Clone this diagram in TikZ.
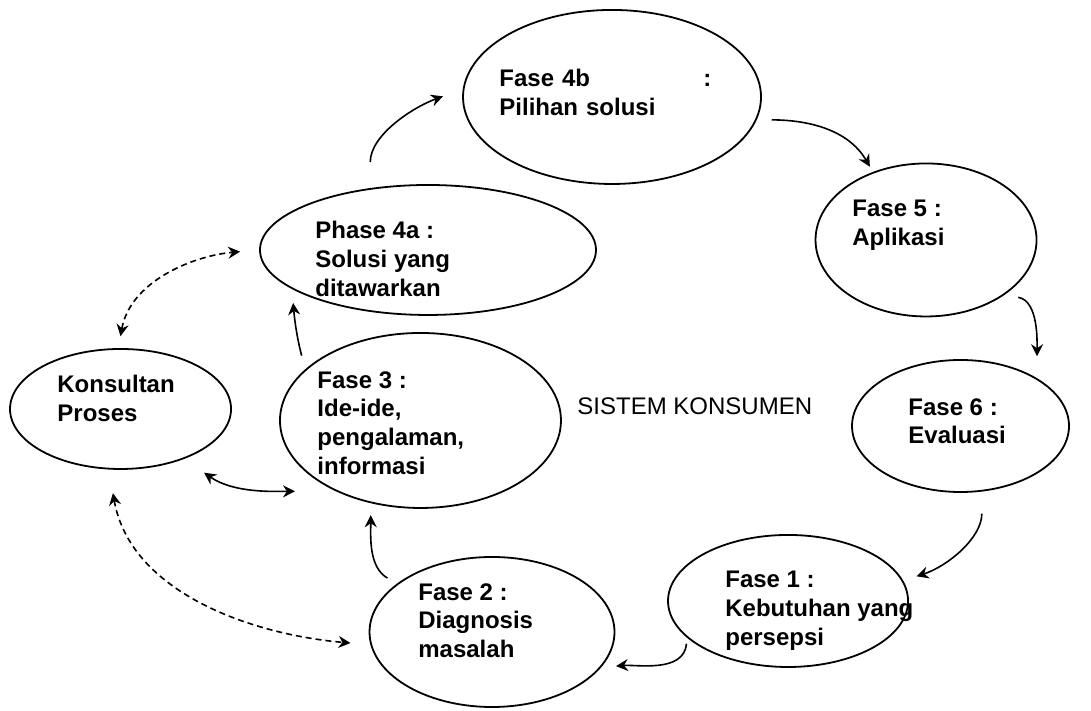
\documentclass[tikz,border=0pt]{standalone}
\usepackage{fontspec}
\setmainfont{Liberation Sans}
\usetikzlibrary{
    arrows.meta,
    shapes.geometric
}

\begin{document}
\begin{tikzpicture}[
    font=\fontsize{12}{14.4}\selectfont,
    >={Stealth[length=6pt,width=6pt,inset=2pt]},
    phase/.style={
        ellipse,
        draw=black,
        line width=0.9pt,
        inner sep=0pt
    },
    note/.style={
        anchor=north west,
        align=left,
        inner sep=0pt,
        font=\fontsize{12}{14.4}\selectfont\bfseries
    },
    flow/.style={
        ->,
        line width=0.8pt
    },
    link/.style={
        <->,
        line width=0.8pt
    },
    hint/.style={
        <->,
        line width=0.8pt,
        dash pattern=on 3pt off 2pt
    }
]
\useasboundingbox (0,0) rectangle (19.172,12.494);

% =========================================================
% Phase ellipses
% =========================================================
\node[phase, minimum width=5.237cm, minimum height=3.058cm] (k4b) at (10.755,10.790) {};
\node[phase, minimum width=5.905cm, minimum height=2.284cm] (k4a) at (7.521,8.101) {};
\node[phase, minimum width=3.884cm, minimum height=2.689cm] (f5) at (16.273,8.277) {};
\node[phase, minimum width=3.813cm, minimum height=2.320cm] (f6) at (16.879,5.008) {};
\node[phase, minimum width=4.218cm, minimum height=2.320cm] (f1) at (13.848,1.933) {};
\node[phase, minimum width=4.305cm, minimum height=2.636cm] (f2) at (8.646,1.388) {};
\node[phase, minimum width=4.938cm, minimum height=3.075cm] (f3) at (7.389,5.105) {};
\node[phase, minimum width=3.884cm, minimum height=2.109cm] (kons) at (2.118,5.307) {};

% =========================================================
% Texts
% =========================================================
\node[note, text width=106pt] (t4b) at (8.769,11.282) {Fase 4b\hfill:\\Pilihan solusi};
\node[note] (t4a) at (5.535,8.611) {Phase 4a :\\Solusi yang\\ditawarkan};
\node[note] (t5) at (14.972,8.980) {Fase 5 :\\Aplikasi};
\node[note] (t6) at (15.956,5.500) {Fase 6 :\\Evaluasi};
\node[note] (t1) at (12.740,2.460) {Fase 1 :\\Kebutuhan yang\\persepsi};
\node[note] (t2) at (7.345,2.249) {Fase 2 :\\Diagnosis\\masalah};
\node[note] (t3) at (5.571,5.975) {Fase 3 :\\Ide-ide,\\pengalaman,\\informasi};
\node[note] (tkons) at (1.002,5.905) {Konsultan\\Proses};
\node[note, font=\fontsize{12}{14.4}\selectfont] (sistem) at (10.140,5.518) {SISTEM KONSUMEN};

% =========================================================
% Cycle arrows
% =========================================================
\draw[flow, shorten <=13pt, shorten >=10.5pt] (k4a.133) to[out=90, in=200] (k4b.177);
\draw[flow, shorten <=7.5pt, shorten >=3pt] (k4b.351) to[out=0, in=120] (f5.128);
\draw[flow, shorten <=7pt, shorten >=11pt] (f5.325) to[out=-10, in=90] (f6.32);
\draw[flow, shorten <=11pt, shorten >=7pt] (f6.288) to[out=-90, in=18] (f1.10);
\draw[flow, shorten <=3pt, shorten >=7.5pt] (f1.200) to[out=-95, in=5] (f2.342);
\draw[flow, shorten <=5.5pt, shorten >=6pt] (f2.153) to[out=150, in=-90] (f3.239);
\draw[flow, shorten <=7pt, shorten >=7pt] (f3.156) to[out=105, in=-85] (k4a.196);

% =========================================================
% Consultant arrows
% =========================================================
\draw[link, shorten <=12pt, shorten >=20.5pt] (kons.322) to[out=-35, in=180] (f3.220);
\draw[hint, shorten <=6pt, shorten >=9.5pt] (kons.92) to[out=80, in=185] (k4a.180);
\draw[hint, shorten <=12pt, shorten >=10pt] (kons.259) to[out=-80, in=175] (f2.186);

\end{tikzpicture}
\end{document}
